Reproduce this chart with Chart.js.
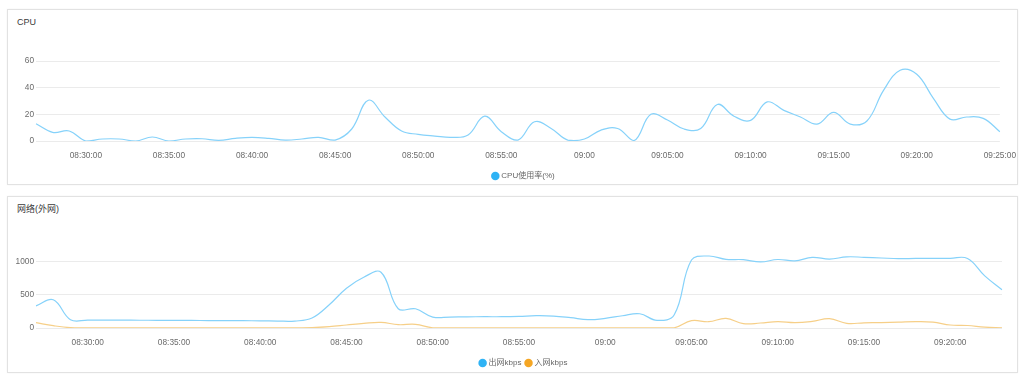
<!DOCTYPE html>
<html><head><meta charset="utf-8">
<script src="https://cdn.jsdelivr.net/npm/chart.js@4.4.1/dist/chart.umd.min.js"></script>
<style>
html,body{margin:0;padding:0;background:#fff;width:1024px;height:390px;overflow:hidden;font-family:"Liberation Sans",Arial,"Noto Sans CJK SC",sans-serif;}
.panel{position:absolute;left:7px;width:1009px;border:1px solid #e2e2e2;background:#fff;box-shadow:0 0 2px rgba(0,0,0,0.05);}
.title{position:absolute;left:17px;font-size:9px;color:#3a3a3a;line-height:12px;white-space:nowrap;}
.clip{position:absolute;left:8px;width:1009px;height:180px;overflow:hidden;}
.clip canvas{position:absolute;left:0;top:0;}
</style></head>
<body>
<div class="panel" style="top:9px;height:174px;"></div>
<div class="panel" style="top:196px;height:175px;"></div>
<div class="title" style="top:16px;">CPU</div>
<div class="title" style="top:203px;">网络(外网)</div>
<div class="clip" style="top:10px;"><canvas id="c1" width="1018" height="180"></canvas></div>
<div class="clip" style="top:197px;"><canvas id="c2" width="1018" height="180"></canvas></div>
<script>
const cpuTimes = ['08:27:00','08:28:00','08:29:00','08:30:00','08:31:00','08:32:00','08:33:00','08:34:00','08:35:00','08:36:00',
  '08:37:00','08:38:00','08:39:00','08:40:00','08:41:00','08:42:00','08:43:00','08:44:00','08:45:00','08:46:00',
  '08:47:00','08:48:00','08:49:00','08:50:00','08:51:00','08:52:00','08:53:00','08:54:00','08:55:00','08:56:00',
  '08:57:00','08:58:00','08:59:00','09:00:00','09:01:00','09:02:00','09:03:00','09:04:00','09:05:00','09:06:00',
  '09:07:00','09:08:00','09:09:00','09:10:00','09:11:00','09:12:00','09:13:00','09:14:00','09:15:00','09:16:00',
  '09:17:00','09:18:00','09:19:00','09:20:00','09:21:00','09:22:00','09:23:00','09:24:00','09:25:00'];
const cpuUsage = [13,6.5,7.5,0,1.5,1.5,0,3,0,1.5,
  1.7,0.5,2,2.7,2,0.7,1.5,2.7,0.7,9,
  30.6,18,7.5,5,3.7,2.7,4.5,18.6,7,0.7,
  14.4,9.4,0.7,1.5,8.2,9.4,0.4,20,15.7,9,
  9.4,27.4,18.6,15.5,29.3,23,18,12.7,21.4,12.7,
  15,38,53,50,32,16.4,18,17,7];
const cpuTickLabels = ['08:30:00','08:35:00','08:40:00','08:45:00','08:50:00','08:55:00','09:00','09:05:00','09:10:00','09:15:00','09:20:00','09:25:00'];
const cpuYTicks = [0,20,40,60];

const netTimes = ['08:27:00','08:28:00','08:29:00','08:30:00','08:31:00','08:32:00','08:33:00','08:34:00','08:35:00','08:36:00',
  '08:37:00','08:38:00','08:39:00','08:40:00','08:41:00','08:42:00','08:43:00','08:44:00','08:45:00','08:46:00',
  '08:47:00','08:48:00','08:49:00','08:50:00','08:51:00','08:52:00','08:53:00','08:54:00','08:55:00','08:56:00',
  '08:57:00','08:58:00','08:59:00','09:00:00','09:01:00','09:02:00','09:03:00','09:04:00','09:05:00','09:06:00',
  '09:07:00','09:08:00','09:09:00','09:10:00','09:11:00','09:12:00','09:13:00','09:14:00','09:15:00','09:16:00',
  '09:17:00','09:18:00','09:19:00','09:20:00','09:21:00','09:22:00','09:23:00'];
const netOut = [334,425,125,120,120,118,117,116,115,114,
  112,111,110,108,105,105,150,350,600,765,
  840,290,290,165,165,168,170,170,175,185,
  180,155,125,145,185,215,115,200,1025,1085,
  1035,1030,995,1032,1012,1065,1038,1072,1065,1055,
  1045,1048,1048,1050,1048,785,575];
const netIn = [80,35,5,3,3,3,3,3,3,3,
  3,3,3,3,3,3,5,20,45,70,
  85,50,55,3,3,3,3,3,3,3,
  3,3,3,3,3,3,3,3,110,95,
  145,65,75,95,80,100,140,70,78,82,
  88,95,88,45,38,12,3];
const netTickLabels = ['08:30:00','08:35:00','08:40:00','08:45:00','08:50:00','08:55:00','09:00','09:05:00','09:10:00','09:15:00','09:20:00'];
const netYTicks = [0,500,1000];

const FONT = '"Liberation Sans", Arial, "Noto Sans CJK SC", sans-serif';
const TICK_COLOR = '#6b6b6b';

function tickFor(tickLabels, time) {
  const hit = tickLabels.find(t => (t.length === 5 ? t + ':00' : t) === time);
  return hit === undefined ? null : hit;
}

const legendShift = {
  id: 'legendShift',
  afterLayout(chart) {
    const lg = chart.legend;
    if (lg) { lg.left += 19; lg.right += 19; }
  }
};

function makeChart(id, labels, tickLabels, datasets, yTicks, yMax, padTop) {
  return new Chart(document.getElementById(id), {
    type: 'line',
    data: { labels, datasets },
    plugins: [legendShift],
    options: {
      responsive: false,
      animation: false,
      layout: { padding: { top: padTop, right: 24, left: 0, bottom: 0 } },
      plugins: {
        tooltip: { enabled: false },
        legend: {
          position: 'bottom',
          labels: {
            usePointStyle: true, pointStyle: 'circle', boxWidth: 4, boxHeight: 6, padding: 5,
            color: '#666', font: { size: 8, family: FONT },
            generateLabels: chart => Chart.defaults.plugins.legend.labels.generateLabels(chart)
              .map(l => Object.assign(l, { strokeStyle: l.fillStyle, lineWidth: 0 }))
          }
        }
      },
      elements: { point: { radius: 0 }, line: { tension: 0.4, borderWidth: 1.2 } },
      scales: {
        x: {
          grid: { display: false, drawTicks: false },
          border: { display: false },
          ticks: {
            autoSkip: false, maxRotation: 0, padding: 10, color: TICK_COLOR,
            font: { size: 8.3, family: FONT },
            callback: (v, i) => tickFor(tickLabels, labels[i])
          },
          afterFit: s => { s.height = 26; }
        },
        y: {
          min: 0, max: yMax,
          grid: { color: '#ebebeb', drawTicks: false, lineWidth: 1 },
          border: { display: false },
          ticks: { padding: 2, color: TICK_COLOR, font: { size: 8.3, family: FONT }, callback: v => String(v) },
          afterBuildTicks: ax => { ax.ticks = yTicks.map(v => ({ value: v })); },
          afterFit: s => { s.width = 28; }
        }
      }
    }
  });
}

makeChart('c1', cpuTimes, cpuTickLabels, [
  { label: 'CPU使用率(%)', data: cpuUsage, borderColor: '#86d2fa', backgroundColor: '#2fb3f5', fill: false }
], cpuYTicks, 60, 51);

makeChart('c2', netTimes, netTickLabels, [
  { label: '出网kbps', data: netOut, borderColor: '#86d2fa', backgroundColor: '#2fb3f5', fill: false },
  { label: '入网kbps', data: netIn, borderColor: '#f6cf88', backgroundColor: '#f5a623', fill: false }
], netYTicks, 1100, 58);
</script>
</body></html>
